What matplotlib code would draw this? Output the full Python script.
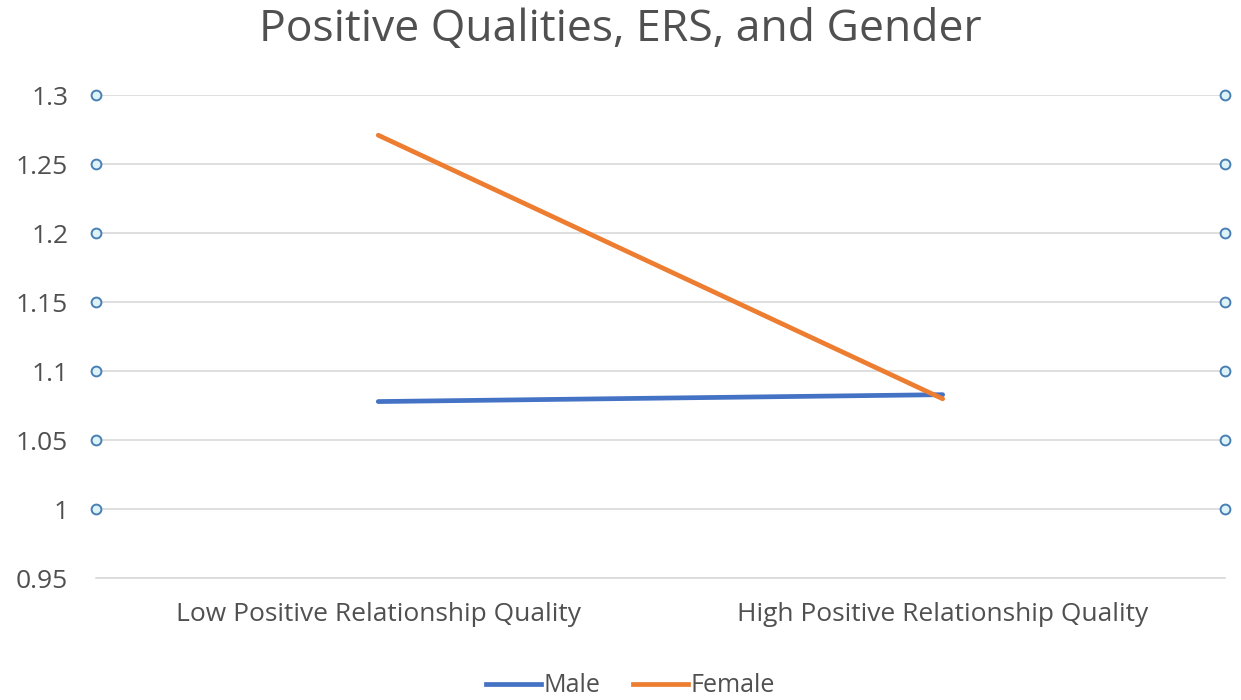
import matplotlib
matplotlib.use("Agg")
import matplotlib.pyplot as plt
from matplotlib.lines import Line2D

plt.rcParams["font.family"] = ["Open Sans", "DejaVu Sans"]

categories = ["Low Positive Relationship Quality", "High Positive Relationship Quality"]
male = [1.078, 1.083]
female = [1.271, 1.080]
marker_levels = [1.0, 1.05, 1.1, 1.15, 1.2, 1.25, 1.3]
yticks = [0.95, 1.0, 1.05, 1.1, 1.15, 1.2, 1.25, 1.3]
ytick_labels = ["0.95", "1", "1.05", "1.1", "1.15", "1.2", "1.25", "1.3"]

TXT = "#505050"
BLUE = "#4472C4"
ORANGE = "#ED7D31"

fig = plt.figure(figsize=(12.41, 7.0), dpi=100)
ax = fig.add_axes([0.0774, 0.174, 0.9096, 0.69])

x = [0, 1]
ax.plot(x, male, color=BLUE, lw=3.4, solid_capstyle="round", zorder=3)
ax.plot(x, female, color=ORANGE, lw=3.4, solid_capstyle="round", zorder=3)

ax.set_xlim(-0.5, 1.5)
ax.set_ylim(0.95, 1.3)

# stray marker columns at the plot edges
for xe in (-0.5, 1.5):
    ax.scatter([xe] * len(marker_levels), marker_levels, s=50, facecolor="#DDF3F7",
               edgecolor="#4A7FB5", linewidth=1.4, zorder=4, clip_on=False)

ax.set_yticks(yticks)
ax.set_yticklabels(ytick_labels)
ax.set_xticks(x)
ax.set_xticklabels(categories)
ax.grid(axis="y", color="#D9D9D9", lw=1.2)
ax.set_axisbelow(True)
for s in ["top", "right", "left"]:
    ax.spines[s].set_visible(False)
ax.spines["bottom"].set_color("#D9D9D9")
ax.spines["bottom"].set_linewidth(1.2)
ax.tick_params(axis="both", length=0, colors=TXT, labelsize=19)
ax.tick_params(axis="y", pad=20)
ax.tick_params(axis="x", pad=17)

fig.suptitle("Positive Qualities, ERS, and Gender", y=0.99, fontsize=32, color=TXT)

handles = [Line2D([], [], color=BLUE, lw=3.4), Line2D([], [], color=ORANGE, lw=3.4)]
fig.legend(handles, ["Male", "Female"], loc="lower center", bbox_to_anchor=(0.508, -0.03),
           ncol=2, frameon=False, fontsize=18, labelcolor=TXT, handlelength=2.2,
           handletextpad=0.1, columnspacing=1.3)

fig.savefig("out.png", dpi=100)
